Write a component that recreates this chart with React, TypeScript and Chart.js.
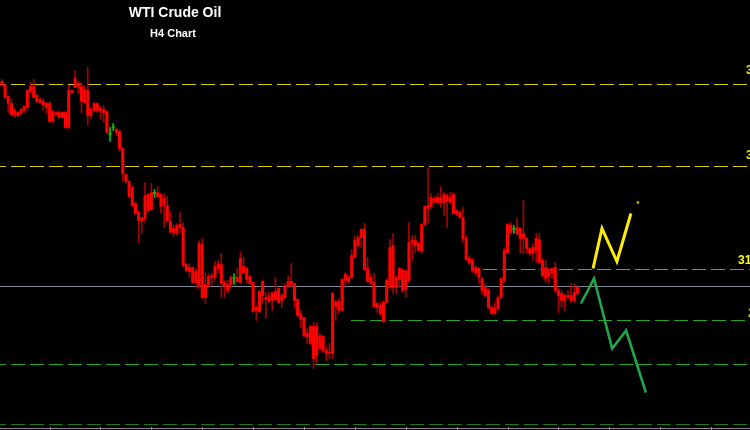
import React, { useEffect, useRef } from 'react';
import { Chart, registerables } from 'chart.js';

Chart.register(...registerables);

// ---- Data (H4 candles, WTI crude) ----
const opens = [
  34.76, 34.68, 34.46, 34.32, 34.18, 34.08, 34.12, 34.18, 34.24, 34.56,
  34.66, 34.48, 34.40, 34.36, 34.32, 34.32, 33.96, 34.14, 34.14, 34.04,
  34.14, 33.84, 34.58, 34.64, 34.72, 34.66, 34.34, 34.58, 34.08, 34.18,
  34.32, 34.22, 34.20, 34.16, 33.70, 33.84, 33.80, 33.76, 33.42, 32.90,
  32.76, 32.64, 32.32, 32.14, 31.98, 32.02, 32.50, 32.20, 32.52, 32.54,
  32.50, 32.28, 32.28, 31.96, 31.82, 31.74, 31.90, 31.84, 31.10, 31.04,
  31.04, 30.96, 30.68, 31.50, 30.44, 30.70, 30.84, 30.84, 31.02, 31.10,
  30.74, 30.70, 30.70, 30.82, 30.76, 30.74, 31.06, 31.02, 30.86, 30.74,
  30.24, 30.16, 30.48, 30.44, 30.46, 30.38, 30.56, 30.62, 30.48, 30.44,
  30.68, 30.76, 30.72, 30.40, 30.10, 30.04, 29.72, 29.86, 29.86, 29.28,
  29.68, 29.66, 29.38, 29.34, 29.32, 30.36, 30.36, 30.18, 30.90, 30.76,
  30.84, 31.24, 31.48, 31.64, 31.80, 31.02, 30.84, 30.74, 30.32, 30.28,
  29.96, 30.34, 30.64, 31.48, 30.64, 30.80, 30.98, 30.60, 30.78, 31.54,
  31.58, 31.38, 31.38, 31.90, 32.22, 32.26, 32.42, 32.34, 32.44, 32.34,
  32.48, 32.34, 32.50, 32.18, 32.14, 32.04, 31.62, 31.22, 31.18, 31.04,
  31.02, 30.82, 30.64, 30.58, 30.24, 30.12, 30.22, 30.44, 30.78, 31.34,
  31.88, 31.80, 31.84, 31.82, 31.72, 31.62, 31.42, 31.32, 31.38, 31.60,
  31.18, 31.04, 30.86, 30.92, 31.04, 30.58, 30.52, 30.38, 30.48, 30.48,
  30.38, 30.52,
];
const highs = [
  34.80, 34.70, 34.48, 34.42, 34.22, 34.16, 34.22, 34.28, 34.60, 34.74,
  34.80, 34.50, 34.42, 34.42, 34.34, 34.36, 34.20, 34.16, 34.18, 34.16,
  34.16, 34.68, 34.58, 34.98, 34.76, 34.74, 34.68, 35.04, 34.24, 34.34,
  34.34, 34.26, 34.28, 34.18, 33.84, 33.92, 33.82, 33.78, 33.44, 32.92,
  32.78, 32.66, 32.34, 32.18, 32.04, 32.74, 32.52, 32.72, 32.60, 32.66,
  32.52, 32.52, 32.46, 32.14, 31.88, 31.92, 32.14, 31.94, 31.12, 31.12,
  31.04, 31.02, 31.58, 31.62, 30.92, 30.92, 30.92, 31.16, 31.18, 31.32,
  30.78, 30.78, 30.88, 30.92, 31.02, 31.36, 31.24, 31.04, 30.88, 30.74,
  30.28, 30.58, 30.78, 30.54, 30.54, 30.54, 30.84, 30.62, 30.52, 30.72,
  30.88, 31.12, 30.72, 30.42, 30.18, 30.04, 29.82, 29.88, 29.94, 29.94,
  29.72, 29.68, 29.46, 29.52, 30.54, 30.38, 30.42, 30.82, 30.94, 30.88,
  31.40, 31.68, 31.68, 31.82, 31.92, 31.24, 30.92, 30.92, 30.34, 30.34,
  30.38, 30.82, 31.60, 31.72, 30.88, 31.04, 31.02, 30.98, 31.94, 31.68,
  31.68, 31.54, 31.92, 32.28, 33.04, 32.52, 32.46, 32.52, 32.66, 32.54,
  32.52, 32.54, 32.54, 32.20, 32.18, 32.24, 31.68, 31.28, 31.22, 31.08,
  31.04, 30.84, 30.72, 30.62, 30.28, 30.34, 30.48, 30.82, 31.44, 31.92,
  31.94, 31.88, 32.02, 31.84, 32.38, 31.64, 31.44, 31.52, 31.72, 31.72,
  31.22, 31.18, 31.02, 31.04, 31.14, 30.62, 30.58, 30.52, 30.58, 30.72,
  30.72, 30.68,
];
const lows = [
  34.66, 34.42, 34.14, 34.08, 34.04, 34.06, 34.10, 34.14, 34.18, 34.52,
  34.44, 34.34, 34.32, 34.18, 34.12, 33.94, 33.94, 34.08, 34.02, 34.04,
  33.82, 33.82, 34.54, 34.64, 34.52, 34.14, 34.32, 33.88, 34.02, 34.16,
  34.14, 34.00, 33.94, 33.72, 33.56, 33.78, 33.68, 33.36, 32.78, 32.72,
  32.44, 32.26, 32.10, 31.54, 31.72, 31.94, 32.16, 32.18, 32.44, 32.44,
  32.12, 31.84, 31.94, 31.72, 31.66, 31.68, 31.74, 31.04, 30.96, 30.84,
  30.72, 30.62, 30.62, 30.42, 30.32, 30.64, 30.68, 30.78, 30.94, 30.44,
  30.44, 30.52, 30.62, 30.70, 30.74, 30.72, 30.92, 30.74, 30.70, 30.14,
  29.98, 30.14, 30.32, 30.02, 30.34, 30.18, 30.36, 30.32, 30.24, 30.42,
  30.64, 30.64, 30.22, 30.04, 29.84, 29.64, 29.52, 29.50, 29.02, 29.12,
  29.38, 29.34, 29.18, 29.22, 29.22, 29.98, 30.12, 30.16, 30.64, 30.72,
  30.82, 31.24, 31.46, 31.44, 30.98, 30.74, 30.70, 30.24, 30.14, 30.08,
  29.94, 30.32, 30.62, 30.52, 30.52, 30.64, 30.54, 30.44, 30.74, 31.18,
  31.34, 31.38, 31.32, 31.88, 31.92, 32.22, 32.32, 32.32, 32.24, 32.08,
  31.84, 32.32, 32.12, 32.08, 32.02, 31.54, 31.18, 31.08, 30.94, 30.88,
  30.72, 30.50, 30.44, 30.20, 30.10, 30.10, 30.18, 30.42, 30.74, 31.32,
  31.72, 31.72, 31.68, 31.32, 31.32, 31.32, 31.28, 31.18, 31.14, 31.12,
  30.84, 30.74, 30.72, 30.82, 30.54, 30.14, 30.24, 30.18, 30.42, 30.34,
  30.34, 30.48,
];
const closes = [
  34.68, 34.44, 34.32, 34.10, 34.08, 34.14, 34.20, 34.26, 34.58, 34.66,
  34.44, 34.36, 34.34, 34.28, 34.24, 33.96, 34.16, 34.10, 34.04, 34.14,
  33.84, 34.58, 34.54, 34.82, 34.66, 34.36, 34.58, 34.08, 34.20, 34.32,
  34.18, 34.18, 34.14, 33.74, 33.70, 33.84, 33.74, 33.42, 32.92, 32.76,
  32.46, 32.28, 32.12, 31.98, 32.04, 32.48, 32.18, 32.54, 32.52, 32.46,
  32.26, 32.42, 31.98, 31.76, 31.74, 31.88, 31.84, 31.08, 30.98, 30.96,
  30.74, 30.74, 31.52, 30.44, 30.70, 30.86, 30.88, 31.06, 31.10, 30.72,
  30.66, 30.58, 30.84, 30.82, 30.84, 31.22, 30.94, 30.80, 30.72, 30.16,
  30.18, 30.56, 30.76, 30.40, 30.36, 30.54, 30.40, 30.34, 30.38, 30.68,
  30.76, 30.70, 30.38, 30.08, 30.00, 29.68, 29.66, 29.52, 29.22, 29.86,
  29.42, 29.38, 29.32, 29.32, 30.52, 30.26, 30.18, 30.80, 30.78, 30.84,
  31.28, 31.58, 31.64, 31.80, 31.00, 30.76, 30.72, 30.26, 30.24, 30.12,
  30.34, 30.78, 31.44, 30.64, 30.84, 31.02, 30.58, 30.98, 31.54, 31.58,
  31.48, 31.52, 31.90, 32.26, 32.28, 32.44, 32.36, 32.44, 32.34, 32.50,
  32.36, 32.44, 32.12, 32.10, 32.04, 31.62, 31.20, 31.14, 30.98, 30.94,
  30.84, 30.58, 30.48, 30.24, 30.12, 30.24, 30.44, 30.82, 31.38, 31.90,
  31.74, 31.80, 31.72, 31.62, 31.62, 31.42, 31.32, 31.44, 31.62, 31.14,
  30.88, 30.82, 30.98, 31.02, 30.58, 30.48, 30.38, 30.48, 30.44, 30.38,
  30.54, 30.64,
];

// Horizontal levels (price) and the bar index where each starts
const levelPrices = [34.70, 33.06, 31.00, 30.66, 29.98, 29.10, 27.90];
const levelStarts = [-0.6, -0.6, 151.3, -0.6, 109.8, -0.6, -0.6];
const levelLabels = ['34.70', '33.06', '31.00', '', '29.98', '', ''];

// Projected paths
const bullPathX = [185.9, 188.7, 193.4, 197.8];
const bullPathY = [31.02, 31.82, 31.16, 32.12];
const bullTargetX = [200.0];
const bullTargetY = [32.34];
const bearPathX = [182.1, 186.2, 191.9, 196.3, 202.5];
const bearPathY = [30.32, 30.82, 29.42, 29.78, 28.54];

const TITLE = 'WTI Crude Oil';
const SUBTITLE = 'H4 Chart';

// ---- Styling ----
const X_MIN = -0.6;
const X_MAX = 235.25;
const Y_MIN = 27.79;
const Y_MAX = 36.39;

const levelStyle = [
  { color: '#d8cc00', dash: [14, 5], offset: 8 },
  { color: '#d8cc00', dash: [14, 5], offset: 8 },
  { color: '#9c9000', dash: [14, 5], offset: 0 },
  { color: '#7f8a99', dash: [], offset: 0 },
  { color: '#22a822', dash: [14, 5], offset: 0 },
  { color: '#22a822', dash: [14, 5], offset: 8 },
  { color: '#1a7a1a', dash: [14, 5], offset: 8 },
];
const labelStyle: Record<number, { left: number; above: number; color: string }> = {
  0: { left: 746, above: 10, color: '#eeee00' },
  1: { left: 746, above: 7, color: '#eeee00' },
  2: { left: 738, above: 6, color: '#ffff00' },
  4: { left: 748, above: 3, color: '#a8d400' },
};

export default function App() {
  const ref = useRef<HTMLCanvasElement>(null);

  useEffect(() => {
    document.body.style.margin = '0';
    document.body.style.background = '#000';
    const canvas = ref.current;
    if (!canvas) return;

    const idx = opens.map((_, i) => i);
    const isDoji = idx.map((i) => opens[i] === closes[i]);

    const datasets: any[] = [];

    datasets.push({
      type: 'line',
      data: bullPathX.map((x, i) => ({ x, y: bullPathY[i] })),
      borderColor: '#ffee00',
      borderWidth: 3,
      pointRadius: 0,
      pointHoverRadius: 0,
      tension: 0,
      order: 0,
    });
    datasets.push({
      type: 'line',
      data: bullTargetX.map((x, i) => ({ x, y: bullTargetY[i] })),
      showLine: false,
      pointStyle: 'rect',
      pointRadius: 1.6,
      pointHoverRadius: 0,
      backgroundColor: '#e0c800',
      borderColor: '#e0c800',
      borderWidth: 0,
      order: 0,
    });
    datasets.push({
      type: 'line',
      data: bearPathX.map((x, i) => ({ x, y: bearPathY[i] })),
      borderColor: '#22a64a',
      borderWidth: 2.6,
      pointRadius: 0,
      pointHoverRadius: 0,
      tension: 0,
      order: 0,
    });

    datasets.push({
      type: 'bar',
      data: idx.map((i) => ({ x: i, y: [opens[i], closes[i]] })),
      backgroundColor: idx.map((i) => (isDoji[i] ? '#00c800' : '#ff0000')),
      barThickness: 2.4,
      minBarLength: 1,
      grouped: false,
      order: 2,
    });
    datasets.push({
      type: 'bar',
      data: idx.map((i) => ({ x: i, y: [lows[i], highs[i]] })),
      backgroundColor: idx.map((i) => (isDoji[i] ? '#00c800' : '#a80000')),
      barThickness: 1,
      grouped: false,
      order: 3,
    });

    levelPrices.forEach((p, k) => {
      datasets.push({
        type: 'line',
        data: [
          { x: levelStarts[k], y: p },
          { x: X_MAX, y: p },
        ],
        borderColor: levelStyle[k].color,
        borderWidth: 1,
        borderDash: levelStyle[k].dash,
        borderDashOffset: levelStyle[k].offset,
        pointRadius: 0,
        pointHoverRadius: 0,
        order: 4,
      });
    });

    const overlay = {
      id: 'overlay',
      beforeDraw(chart: any) {
        const c = chart.ctx;
        c.save();
        c.fillStyle = '#000';
        c.fillRect(0, 0, chart.width, chart.height);
        c.restore();
      },
      afterDraw(chart: any) {
        const c = chart.ctx;
        const ys = chart.scales.y;
        const xs = chart.scales.x;
        c.save();
        c.fillStyle = '#ffffff';
        c.textAlign = 'center';
        c.textBaseline = 'middle';
        c.font = 'bold 14px "Liberation Sans", Arial, sans-serif';
        c.fillText(TITLE, 175, 13);
        c.font = 'bold 11px "Liberation Sans", Arial, sans-serif';
        c.fillText(SUBTITLE, 173, 34);

        c.textAlign = 'left';
        c.textBaseline = 'alphabetic';
        c.font = 'bold 12px "Liberation Sans", Arial, sans-serif';
        levelLabels.forEach((t, k) => {
          const st = labelStyle[k];
          if (!t || !st) return;
          c.fillStyle = st.color;
          c.fillText(t, st.left, Math.round(ys.getPixelForValue(levelPrices[k])) - st.above);
        });

        // bottom time axis strip
        c.fillStyle = '#8a8a8a';
        c.fillRect(0, 428, chart.width, 1);
        for (let i = 15; i < X_MAX; i += 16) {
          const px = Math.round(xs.getPixelForValue(i));
          c.fillRect(px, 427, 1, 3);
        }
        c.restore();
      },
    };

    const chart = new Chart(canvas, {
      type: 'bar',
      data: { datasets },
      options: {
        animation: false,
        responsive: false,
        devicePixelRatio: 1,
        events: [],
        layout: { padding: 0, autoPadding: false },
        plugins: {
          legend: { display: false },
          tooltip: { enabled: false },
          title: { display: false },
        },
        scales: {
          x: { type: 'linear', min: X_MIN, max: X_MAX, display: false, offset: false },
          y: { type: 'linear', min: Y_MIN, max: Y_MAX, display: false },
        },
      } as any,
      plugins: [overlay],
    } as any);

    return () => chart.destroy();
  }, []);

  return (
    <div style={{ width: 750, height: 430, background: '#000' }}>
      <canvas ref={ref} width={750} height={430} style={{ display: 'block' }} />
    </div>
  );
}
